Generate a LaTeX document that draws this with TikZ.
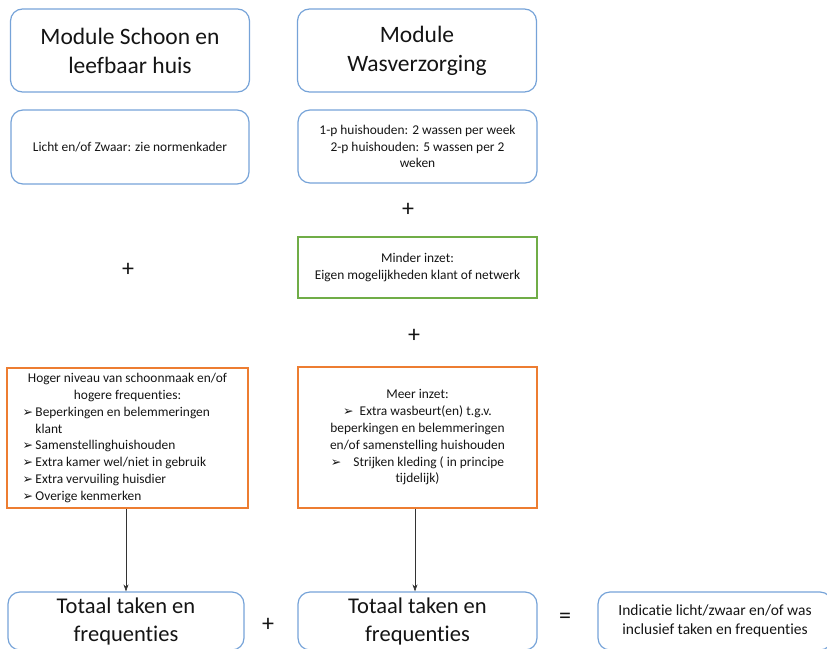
\documentclass[tikz,border=0pt]{standalone}
\usepackage{fontspec}
\setmainfont{Carlito}[Ligatures=NoCommon]
\newfontfamily\dejavu{DejaVu Sans}
\usetikzlibrary{arrows.meta}

\definecolor{blauwrand}{RGB}{118,163,216}
\definecolor{oranjerand}{RGB}{237,125,49}
\definecolor{groenrand}{RGB}{112,173,71}
\definecolor{tekst}{RGB}{20,20,20}

\newcommand\grootschrift{\fontsize{23.5}{29}\selectfont}
\newcommand\totaalschrift{\fontsize{22.5}{28}\selectfont}
\newcommand\kleinschrift{\fontsize{13.4}{16.8}\selectfont}
\newcommand\pijl{{\dejavu\fontsize{12.5}{12}\selectfont ➢}}
\newcommand\punt{\noindent\hangindent=13pt\hangafter=1\makebox[13pt][l]{\pijl}}

\begin{document}
\begin{tikzpicture}[x=1pt,y=-1pt,
  blok/.style={draw=blauwrand, line width=1.2pt, rounded corners=12pt,
    align=center, inner sep=0pt, text=tekst},
  kader/.style={line width=1.2pt, align=center, inner sep=0pt, text=tekst},
  teken/.style={font=\fontsize{24}{28}\selectfont, text=tekst},
  pijlijn/.style={-{Stealth[length=7pt,width=5pt]}, line width=0.6pt, draw=black!80}]
\useasboundingbox (0,0) rectangle (827,648);

% Modules
\node[blok, font=\grootschrift, minimum width=239pt, minimum height=83pt] (schoon) at (130,50.5) {Module Schoon en\\leefbaar huis};
\node[blok, font=\grootschrift, minimum width=239pt, minimum height=83pt] (was) at (417,50.5) {Module\\Wasverzorging};

% Basis
\node[blok, font=\kleinschrift, minimum width=238pt, minimum height=74pt] (licht) at (130,147) {Licht en/of Zwaar: zie normenkader};
\node[blok, font=\kleinschrift, minimum width=239pt, minimum height=73pt] (wassen) at (417.5,146.5) {1-p huishouden: 2 wassen per week\\2-p huishouden: 5 wassen per 2\\weken};

% Minder inzet
\node[teken] (plusa) at (408,210) {+};
\node[kader, draw=groenrand, font=\kleinschrift, minimum width=239pt, minimum height=61pt] (minder) at (417.5,267.5) {Minder inzet:\\Eigen mogelijkheden klant of netwerk};
\node[teken] (plusb) at (128,270) {+};
\node[teken] (plusc) at (414,336) {+};

% Meer inzet
\node[kader, draw=oranjerand, font=\kleinschrift, minimum width=241pt, minimum height=140pt, text width=210pt, align=none] (hoger) at (127.5,438) {%
  {\centering Hoger niveau van schoonmaak en/of\\hogere frequenties:\par}
  \raggedright
  \punt Beperkingen en belemmeringen\newline klant\par
  \punt Samenstellinghuishouden\par
  \punt Extra kamer wel/niet in gebruik\par
  \punt Extra vervuiling huisdier\par
  \punt Overige kenmerken\par};
\node[kader, draw=oranjerand, font=\kleinschrift, minimum width=239pt, minimum height=141pt] (meer) at (417.5,437.5) {Meer inzet:\\\pijl\ \ Extra wasbeurt(en) t.g.v.\\beperkingen en belemmeringen\\en/of samenstelling huishouden\\\pijl\ \ \ \ Strijken kleding ( in principe\\tijdelijk)};

% Totalen
\node[blok, font=\totaalschrift, minimum width=236pt, minimum height=58pt] (totaala) at (126,621) {Totaal taken en\\frequenties};
\node[blok, font=\totaalschrift, minimum width=239pt, minimum height=58pt] (totaalb) at (417.5,621) {Totaal taken en\\frequenties};
\node[teken] (plusd) at (268,625) {+};
\node[teken] (is) at (565,618) {=};
\node[blok, font=\fontsize{15.5}{19}\selectfont, minimum width=234pt, minimum height=58pt] (indicatie) at (715,621) {Indicatie licht/zwaar en/of was\\inclusief taken en frequenties};

% Pijlen
\draw[pijlijn] (hoger.south -| totaala.north) -- (totaala.north);
\draw[pijlijn] (meer.south -| 415,0) -- (totaalb.north -| 415,0);
\end{tikzpicture}
\end{document}
